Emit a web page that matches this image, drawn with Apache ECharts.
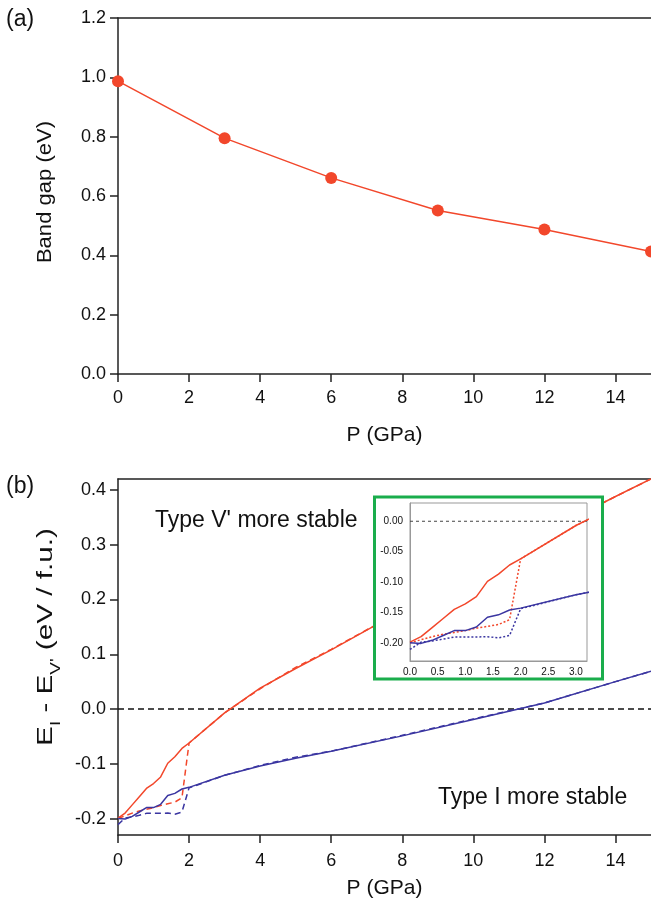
<!DOCTYPE html>
<html><head><meta charset="utf-8">
<script src="https://cdn.jsdelivr.net/npm/echarts@6/dist/echarts.min.js"></script>
<style>html,body{margin:0;padding:0;background:#fff}#c{width:651px;height:904px}</style>
</head><body><div id="c"></div>
<script>
const FONT = '"Liberation Sans", Arial, Helvetica, sans-serif';
// Panel (a)
const pressureA = [0, 3, 6, 9, 12, 15];
const bandGap = [0.987, 0.795, 0.661, 0.551, 0.487, 0.413];
// Panel (b)
const pressureB = [0, 0.2, 0.4, 0.6, 0.8, 1.0, 1.2, 1.4, 1.6, 1.8, 2.0, 3, 4, 5, 6, 8, 10, 12, 14, 15];
const redSolid  = [-0.199, -0.190, -0.175, -0.160, -0.145, -0.136, -0.124, -0.099, -0.087, -0.072, -0.062, -0.007, 0.038, 0.074, 0.108, 0.180, 0.252, 0.322, 0.388, 0.420];
const redDashed = [-0.200, -0.195, -0.190, -0.186, -0.183, -0.180, -0.176, -0.173, -0.170, -0.162, -0.062, -0.007, 0.037, 0.076, 0.109, 0.180, 0.252, 0.322, 0.388, 0.420];
const blueSolid = [-0.200, -0.201, -0.196, -0.188, -0.180, -0.180, -0.174, -0.158, -0.154, -0.146, -0.143, -0.121, -0.104, -0.090, -0.077, -0.049, -0.019, 0.011, 0.050, 0.069];
const blueDashed= [-0.211, -0.199, -0.197, -0.194, -0.1905, -0.1905, -0.1905, -0.190, -0.192, -0.188, -0.144, -0.121, -0.103, -0.088, -0.077, -0.048, -0.018, 0.011, 0.050, 0.069];
const zeroLineX = [0, 15];
const zeroLineY = [0, 0];
// Ticks
const xTicks = [0, 2, 4, 6, 8, 10, 12, 14];
const yTicksA = [0, 0.2, 0.4, 0.6, 0.8, 1.0, 1.2];
const yTicksB = [-0.2, -0.1, 0, 0.1, 0.2, 0.3, 0.4];
const insetXTicks = [0, 0.5, 1.0, 1.5, 2.0, 2.5, 3.0];
const insetYTicks = [-0.2, -0.15, -0.1, -0.05, 0];

const RED = '#f2472b', BLUE = '#3b36a1', AX = '#222';
const pairs = (xs, ys) => xs.map((x, i) => [x, ys[i]]);

const mainX = (grid, margin, gap) => ({
  type: 'value', gridIndex: grid, min: 0, max: 15, position: 'bottom',
  axisLine: {show: true, onZero: false, lineStyle: {color: AX, width: 1.5}},
  axisTick: {show: true, length: 8, customValues: xTicks, lineStyle: {color: AX, width: 1.5}},
  axisLabel: {show: true, customValues: xTicks, margin: margin, color: '#111', fontSize: 18, fontFamily: FONT},
  splitLine: {show: false},
  name: 'P (GPa)', nameLocation: 'middle', nameGap: gap,
  nameTextStyle: {color: '#111', fontSize: 21, fontFamily: FONT}
});
const topX = (grid) => ({
  type: 'value', gridIndex: grid, min: 0, max: 15, position: 'top',
  axisLine: {show: true, onZero: false, lineStyle: {color: AX, width: 1.5}},
  axisTick: {show: false}, axisLabel: {show: false}, splitLine: {show: false}
});

const option = {
  animation: false,
  backgroundColor: '#fff',
  grid: [
    {left: 118, top: 18, width: 535, height: 356},
    {left: 118, top: 479, width: 535, height: 356},
    {left: 410, top: 503, width: 177, height: 158, show: true, borderColor: '#999', borderWidth: 1, backgroundColor: 'transparent', z: 10}
  ],
  xAxis: [
    mainX(0, 15, 51),
    topX(0),
    mainX(1, 17, 43),
    topX(1),
    {
      type: 'value', gridIndex: 2, min: 0, max: 3.2, z: 10,
      axisLine: {show: true, onZero: false, lineStyle: {color: '#999', width: 1}},
      axisTick: {show: false},
      axisLabel: {show: true, customValues: insetXTicks, margin: 6, color: '#111', fontSize: 10, fontFamily: FONT,
        formatter: v => v.toFixed(1)},
      splitLine: {show: false}
    }
  ],
  yAxis: [
    {
      type: 'value', gridIndex: 0, min: 0, max: 1.2, interval: 0.2,
      axisLine: {show: true, onZero: false, lineStyle: {color: AX, width: 1.5}},
      axisTick: {show: true, length: 8, lineStyle: {color: AX, width: 1.5}},
      axisLabel: {color: '#111', fontSize: 18, fontFamily: FONT, margin: 12, formatter: v => v.toFixed(1)},
      splitLine: {show: false}
    },
    {
      type: 'value', gridIndex: 1, min: -0.23, max: 0.42,
      axisLine: {show: true, onZero: false, lineStyle: {color: AX, width: 1.5}},
      axisTick: {show: true, length: 8, customValues: yTicksB, lineStyle: {color: AX, width: 1.5}},
      axisLabel: {customValues: yTicksB, color: '#111', fontSize: 18, fontFamily: FONT, margin: 12, formatter: v => v.toFixed(1)},
      splitLine: {show: false}
    },
    {
      type: 'value', gridIndex: 2, min: -0.23, max: 0.03, z: 10,
      axisLine: {show: true, onZero: false, lineStyle: {color: '#999', width: 1}},
      axisTick: {show: false},
      axisLabel: {customValues: insetYTicks, color: '#111', fontSize: 10, fontFamily: FONT, margin: 7, formatter: v => v.toFixed(2)},
      splitLine: {show: false}
    }
  ],
  graphic: [
    {type: 'rect', z: 5, shape: {x: 374.5, y: 497, width: 228, height: 182},
      style: {fill: '#fff', stroke: '#1aad4c', lineWidth: 3}},
    {type: 'text', z: 20, x: 6, y: 20, style: {text: '(a)', font: '23px ' + FONT, fill: '#111', textVerticalAlign: 'middle'}},
    {type: 'text', z: 20, x: 6, y: 487, style: {text: '(b)', font: '23px ' + FONT, fill: '#111', textVerticalAlign: 'middle'}},
    {type: 'text', z: 20, x: 45, y: 192, rotation: Math.PI / 2, scaleX: 1.05,
      style: {text: 'Band gap (eV)', font: '21px ' + FONT, fill: '#111', textAlign: 'center', textVerticalAlign: 'middle'}},
    {type: 'text', z: 20, x: 46, y: 637, rotation: Math.PI / 2, scaleX: 1.35,
      style: {text: 'E{s|I} - E{s|V\'} (eV / f.u.)', fill: '#111', textAlign: 'center', textVerticalAlign: 'middle',
        font: '22px ' + FONT,
        rich: {s: {fontSize: 14, fontFamily: FONT, fill: '#111', verticalAlign: 'bottom', lineHeight: 12, padding: [0, 0, -6, 0]}}}},
    {type: 'text', z: 20, x: 155, y: 521, style: {text: 'Type V\' more stable', font: '23px ' + FONT, fill: '#111', textVerticalAlign: 'middle'}},
    {type: 'text', z: 20, x: 438, y: 798, style: {text: 'Type I more stable', font: '23px ' + FONT, fill: '#111', textVerticalAlign: 'middle'}}
  ],
  series: [
    {type: 'line', xAxisIndex: 0, yAxisIndex: 0, data: pairs(pressureA, bandGap), symbol: 'circle', symbolSize: 12,
      itemStyle: {color: RED}, lineStyle: {color: RED, width: 1.5}},
    // main panel (b)
    {type: 'line', xAxisIndex: 2, yAxisIndex: 1, data: pairs(zeroLineX, zeroLineY), symbol: 'none',
      lineStyle: {color: '#111', width: 1.5, type: [6, 4]}},
    {type: 'line', xAxisIndex: 2, yAxisIndex: 1, data: pairs(pressureB, redDashed), symbol: 'none',
      lineStyle: {color: RED, width: 1.5, type: [6, 4]}},
    {type: 'line', xAxisIndex: 2, yAxisIndex: 1, data: pairs(pressureB, blueDashed), symbol: 'none',
      lineStyle: {color: BLUE, width: 1.5, type: [6, 4]}},
    {type: 'line', xAxisIndex: 2, yAxisIndex: 1, data: pairs(pressureB, redSolid), symbol: 'none',
      lineStyle: {color: RED, width: 1.5}},
    {type: 'line', xAxisIndex: 2, yAxisIndex: 1, data: pairs(pressureB, blueSolid), symbol: 'none',
      lineStyle: {color: BLUE, width: 1.5}},
    // inset
    {type: 'line', xAxisIndex: 4, yAxisIndex: 2, z: 11, data: pairs(zeroLineX, zeroLineY), symbol: 'none',
      lineStyle: {color: '#444', width: 1.2, type: [3, 3]}},
    {type: 'line', xAxisIndex: 4, yAxisIndex: 2, z: 11, data: pairs(pressureB, redDashed), symbol: 'none',
      lineStyle: {color: RED, width: 1.5, type: [2, 2]}},
    {type: 'line', xAxisIndex: 4, yAxisIndex: 2, z: 11, data: pairs(pressureB, blueDashed), symbol: 'none',
      lineStyle: {color: BLUE, width: 1.5, type: [2, 2]}},
    {type: 'line', xAxisIndex: 4, yAxisIndex: 2, z: 12, data: pairs(pressureB, redSolid), symbol: 'none',
      lineStyle: {color: RED, width: 1.5}},
    {type: 'line', xAxisIndex: 4, yAxisIndex: 2, z: 12, data: pairs(pressureB, blueSolid), symbol: 'none',
      lineStyle: {color: BLUE, width: 1.5}}
  ]
};
const chart = echarts.init(document.getElementById('c'), null, {renderer: 'canvas'});
chart.setOption(option);
</script></body></html>
